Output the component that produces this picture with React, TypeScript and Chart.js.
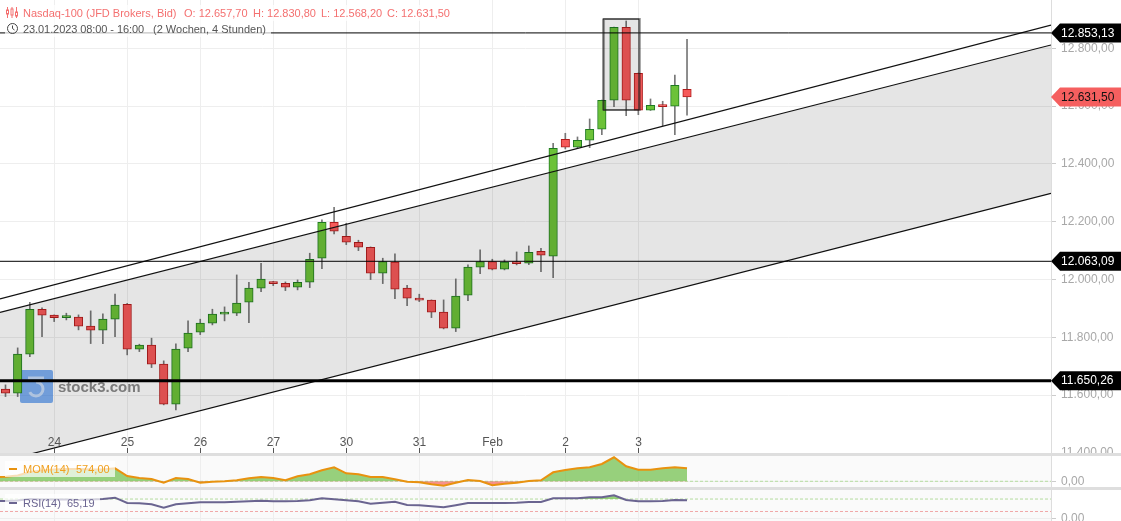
import React, { useEffect, useRef } from 'react';
import { Chart, registerables } from 'chart.js';

Chart.register(...registerables);

const FONT = '"Liberation Sans", Arial, sans-serif';

// 4-hour candles, 23.01.2023 - 03.02.2023
const opens = [11620.8, 11607, 11741.8, 11897.4, 11876.7, 11868.4, 11869.8, 11838.7, 11824.8, 11862.9, 11914.7, 11759.1, 11773, 11707.3, 11568.9, 11762.6, 11817.9, 11849, 11880.2, 11883.6, 11921.6, 11970.1, 11990.8, 11987.3, 11973.5, 11990.8, 12073.8, 12198.3, 12149.9, 12129.1, 12111.8, 12022, 12060, 11970.1, 11935.5, 11928.6, 11887.1, 11831.7, 11945.8, 12042.7, 12062, 12035.8, 12060, 12056.5, 12098, 12080.7, 12485.3, 12457.6, 12481.8, 12519.9, 12620.2, 12872.6, 12713.5, 12585.6, 12602.9, 12599.4, 12657.7];
const highs = [11635.7, 11763.6, 11921.6, 11901.9, 11877.7, 11883.6, 11877.7, 11891.6, 11881.2, 11949.3, 11917.5, 11776.4, 11797.2, 11718.7, 11777.4, 11857, 11862.9, 11897.4, 11905.4, 12016, 11990.8, 12056.5, 11993.6, 11991.8, 11998.8, 12091.1, 12206.2, 12250.2, 12194.8, 12136, 12112.9, 12073.8, 12088.7, 11980.4, 11949.3, 11929.6, 11929.6, 12002.2, 12050.6, 12102.5, 12070.3, 12068, 12095.6, 12116.3, 12108.4, 12471.5, 12506, 12493.3, 12555.5, 12621.2, 12873.6, 12894.4, 12714.6, 12624.7, 12616.7, 12707.6, 12830.8];
const lows = [11595.2, 11595.2, 11733.5, 11802.7, 11854.6, 11860.4, 11825.9, 11778.5, 11778.5, 11802.7, 11739.4, 11750.8, 11695.5, 11566.5, 11549.2, 11750.8, 11809.6, 11843.1, 11857, 11875.3, 11851.1, 11958.3, 11979, 11961.8, 11964.2, 11972.1, 12037.8, 12157.8, 12120.8, 12100.1, 11999.8, 11986, 11934.1, 11909.9, 11923.7, 11868.4, 11829.3, 11820, 11927.2, 12020.6, 12033.3, 12033.3, 12050.6, 12051.7, 12027.5, 12006.7, 12451.8, 12455.2, 12456.3, 12501.2, 12598, 12566.9, 12570.4, 12584.9, 12532.3, 12501.2, 12568.2];
const closes = [11607, 11741.8, 11897.4, 11876.7, 11868.4, 11870.8, 11838.7, 11824.8, 11862.9, 11911.3, 11759.1, 11773, 11707.3, 11568.9, 11759.1, 11814.4, 11849, 11880.2, 11883.6, 11918.2, 11970.1, 12001.2, 11986, 11973.5, 11990.8, 12070.3, 12198.3, 12167.2, 12129.1, 12111.8, 12022, 12062, 11966.6, 11935.5, 11928.6, 11887.1, 11831.7, 11942.4, 12042.7, 12062, 12035.8, 12060, 12055.1, 12094.5, 12084.2, 12454.2, 12457.6, 12481.8, 12519.9, 12620.2, 12872.6, 12620.2, 12585.6, 12602.9, 12598, 12672, 12631.5];

const momValues = [203, 256, 411, 477, 521, 543, 543, 521, 521, 574, 234, 146, 102, -62, 146, 102, -62, -18, 5, 44, 132, 190, 146, 44, 221, 309, 486, 618, 353, 309, 190, 190, 88, -18, -44, -132, -194, -62, 57, 13, -177, -106, -62, 13, 44, 397, 499, 574, 618, 764, 1060, 662, 512, 512, 574, 618, 574];
const rsiValues = [62.9, 64.7, 70.2, 68.4, 68.4, 68.4, 66.5, 68.4, 70.2, 74.9, 55.7, 54.6, 51, 38.7, 51, 54.6, 58.2, 58.2, 58.2, 60.4, 61.8, 64, 61.8, 61.8, 62.9, 65.5, 72.7, 69.1, 65.5, 61.8, 53.2, 56.8, 60.4, 48.5, 47.4, 43.8, 40.1, 47.4, 55.7, 55.7, 55.7, 55.7, 56.8, 59.3, 59.3, 72.7, 72.7, 72.7, 76.3, 76.3, 83.5, 66.5, 61.8, 61.8, 62.9, 66.5, 65.19];
// indicator values at the left edge, the candle before it is cut off
const momLead = 195;
const rsiLead = 62.5;

// x axis in candle numbers
const xRange = [-0.452, 85.908];
const xTickPositions = [4, 10, 16, 22, 28, 34, 40, 46, 52];
const xTickLabels = ['24', '25', '26', '27', '30', '31', 'Feb', '2', '3'];

const priceRange = [11400, 12967];
const priceTicks = [11400, 11600, 11800, 12000, 12200, 12400, 12600, 12800];

const channelUpper = [11933, 12880.5];
const channelMiddle = [11886.4, 12811.4];
const channelLower = [11369.4, 12297.9];

const levelValues = [12853.13, 12063.09, 11650.26];
const levelWidths = [1, 1, 3];
const lastPrice = 12631.5;

const boxX = [49.1, 52.05];
const boxY = [12586.6, 12901.3];

const momRange = [-252, 1117];
const momTicks = [0];
const rsiRange = [-9.4, 102.7];
const rsiTicks = [0];
const rsiLevels = [70, 25];

const xAt = (values: number[], lead: number) => [{ x: xRange[0], y: lead }, ...values.map((y, i) => ({ x: i, y }))];
const span = (values: number[]) => values.map((y, i) => ({ x: xRange[i], y }));
const flat = (y: number) => xRange.map((x) => ({ x, y }));
const deNumber = (v: number) => v.toFixed(2).replace('.', ',').replace(/\B(?=(\d{3})+,)/g, '.');

const UP = 'rgb(108,194,56)';
const DOWN = 'rgb(246,90,90)';
const UP_EDGE = '#1f7a22';
const DOWN_EDGE = '#b01c1c';

const xScale = (): any => ({
  type: 'linear',
  offset: false,
  min: xRange[0],
  max: xRange[1],
  afterBuildTicks: (s: any) => {
    s.ticks = xTickPositions.map((value) => ({ value }));
  },
  afterFit: (s: any) => {
    s.height = 0;
  },
  ticks: { display: false, autoSkip: false },
  border: { display: false },
  grid: { color: '#eeeeee', lineWidth: 1, drawTicks: false, offset: false },
});

const yScale = (range: number[], ticks: number[]): any => ({
  type: 'linear',
  position: 'right',
  min: range[0],
  max: range[1],
  afterBuildTicks: (s: any) => {
    s.ticks = ticks.map((value) => ({ value }));
  },
  afterFit: (s: any) => {
    s.width = 70;
    // labels may be cut by the panel edge, as in the original
    s.paddingTop = 0;
    s.paddingBottom = 0;
  },
  ticks: {
    color: '#a8a8a8',
    font: { family: FONT, size: 12 },
    padding: 5,
    callback: (v: number) => deNumber(v),
  },
  border: { color: '#dddddd' },
  grid: { color: '#eeeeee', tickColor: '#cccccc', tickLength: 5 },
});

const mainDecor = {
  id: 'mainDecor',
  beforeDatasetsDraw(chart: any) {
    const { ctx } = chart;
    ctx.save();
    // stock3 logo, sits under the candles and the channel
    ctx.fillStyle = 'rgba(70,140,235,0.7)';
    ctx.beginPath();
    ctx.roundRect(20, 370, 33, 33, 2);
    ctx.fill();
    ctx.strokeStyle = 'rgba(255,255,255,0.55)';
    ctx.lineWidth = 3;
    ctx.beginPath();
    ctx.moveTo(28, 378);
    ctx.lineTo(44, 378);
    ctx.stroke();
    ctx.beginPath();
    ctx.arc(36, 389, 7, -Math.PI / 2, Math.PI * 0.85);
    ctx.stroke();
    ctx.fillStyle = '#8a8a8a';
    ctx.font = `bold 15px ${FONT}`;
    ctx.textBaseline = 'middle';
    ctx.fillText('stock3.com', 58, 388);
    ctx.restore();
  },
  afterDatasetsDraw(chart: any) {
    const { ctx, scales } = chart;
    const { x, y } = scales;
    const left = x.getPixelForValue(boxX[0]);
    const right = x.getPixelForValue(boxX[1]);
    const top = y.getPixelForValue(boxY[1]);
    const bottom = y.getPixelForValue(boxY[0]);
    ctx.save();
    ctx.fillStyle = 'rgba(0,0,0,0.1)';
    ctx.fillRect(left, top, right - left, bottom - top);
    ctx.strokeStyle = 'rgba(0,0,0,0.35)';
    ctx.lineWidth = 2;
    ctx.strokeRect(left + 1, top, right - left, bottom - top);
    ctx.strokeStyle = '#222222';
    ctx.lineWidth = 1;
    ctx.strokeRect(left, top, right - left, bottom - top);
    ctx.restore();
  },
  afterDraw(chart: any) {
    const { ctx, scales } = chart;
    const { x, y } = scales;
    ctx.save();
    // x labels sit inside the plot
    ctx.font = `12px ${FONT}`;
    ctx.textAlign = 'center';
    ctx.textBaseline = 'middle';
    xTickPositions.forEach((pos, i) => {
      const px = Math.round(x.getPixelForValue(pos)) + 0.5;
      ctx.fillStyle = '#555555';
      ctx.fillText(xTickLabels[i], px, 442.5);
      ctx.strokeStyle = '#555555';
      ctx.lineWidth = 1;
      ctx.beginPath();
      ctx.moveTo(px, 448);
      ctx.lineTo(px, 453);
      ctx.stroke();
    });
    // price tags on the right
    const edge = x.right;
    const tag = (value: number, fill: string, text: string) => {
      const py = y.getPixelForValue(value);
      ctx.fillStyle = fill;
      ctx.beginPath();
      ctx.moveTo(edge, py);
      ctx.lineTo(edge + 9, py - 9.5);
      ctx.lineTo(1121, py - 9.5);
      ctx.lineTo(1121, py + 9.5);
      ctx.lineTo(edge + 9, py + 9.5);
      ctx.closePath();
      ctx.fill();
      ctx.fillStyle = text;
      ctx.textAlign = 'left';
      ctx.fillText(deNumber(value), 1061, py + 0.5);
    };
    levelValues.forEach((v) => tag(v, '#000000', '#ffffff'));
    tag(lastPrice, '#f55f5f', '#111111');
    ctx.restore();
  },
};

const baseOptions = (scales: any): any => ({
  responsive: false,
  animation: false,
  layout: { padding: 0, autoPadding: false },
  plugins: { legend: { display: false }, tooltip: { enabled: false } },
  elements: { point: { radius: 0 }, line: { tension: 0 } },
  scales,
});

const App: React.FC = () => {
  const mainRef = useRef<HTMLCanvasElement>(null);
  const momRef = useRef<HTMLCanvasElement>(null);
  const rsiRef = useRef<HTMLCanvasElement>(null);

  useEffect(() => {
    const charts: Chart[] = [];

    const channelLine = (data: number[], order: number, extra: any = {}) => ({
      type: 'line',
      data: span(data),
      borderColor: '#111111',
      borderWidth: 1.2,
      order,
      fill: false,
      ...extra,
    });

    charts.push(
      new Chart(mainRef.current!, {
        type: 'bar',
        data: {
          datasets: [
            {
              data: highs.map((h, i) => ({ x: i, y: [lows[i], h] })),
              backgroundColor: '#777777',
              borderWidth: 0,
              barThickness: 1,
              grouped: false,
              order: 10,
            },
            {
              data: opens.map((o, i) => ({ x: i, y: [o, closes[i]] })),
              backgroundColor: opens.map((o, i) => (closes[i] >= o ? UP : DOWN)),
              borderColor: opens.map((o, i) => (closes[i] >= o ? UP_EDGE : DOWN_EDGE)),
              borderWidth: 1,
              borderSkipped: false,
              barThickness: 8.5,
              minBarLength: 2,
              grouped: false,
              order: 9,
            },
            channelLine(channelLower, 8),
            channelLine(channelMiddle, 7, { fill: { target: '-1' }, backgroundColor: 'rgba(0,0,0,0.1)' }),
            channelLine(channelUpper, 6),
            ...levelValues.map((v, i) => ({
              type: 'line',
              data: flat(v),
              borderColor: '#000000',
              borderWidth: levelWidths[i],
              order: 5 - i,
              fill: false,
            })),
          ] as any,
        },
        options: baseOptions({ x: xScale(), y: yScale(priceRange, priceTicks) }),
        plugins: [mainDecor],
      })
    );

    charts.push(
      new Chart(momRef.current!, {
        type: 'line',
        data: {
          datasets: [
            {
              data: xAt(momValues, momLead),
              borderColor: '#e8920f',
              borderWidth: 2,
              fill: { target: { value: 0 }, above: 'rgba(108,190,70,0.7)', below: 'rgba(245,100,90,0.7)' },
              order: 1,
            },
            {
              data: flat(0),
              borderColor: '#b5dc9e',
              borderWidth: 1,
              borderDash: [3, 2],
              order: 2,
            },
          ] as any,
        },
        options: baseOptions({ x: xScale(), y: yScale(momRange, momTicks) }),
      })
    );

    charts.push(
      new Chart(rsiRef.current!, {
        type: 'line',
        data: {
          datasets: [
            {
              data: xAt(rsiValues, rsiLead),
              borderColor: '#6a6490',
              borderWidth: 2,
              fill: { target: { value: rsiLevels[0] }, above: 'rgba(108,190,70,0.7)', below: 'rgba(0,0,0,0)' },
              order: 1,
            },
            {
              data: flat(rsiLevels[0]),
              borderColor: '#b5dc9e',
              borderWidth: 1,
              borderDash: [3, 2],
              order: 2,
            },
            {
              data: flat(rsiLevels[1]),
              borderColor: '#f0a8a8',
              borderWidth: 1,
              borderDash: [3, 2],
              order: 3,
            },
          ] as any,
        },
        options: baseOptions({ x: xScale(), y: yScale(rsiRange, rsiTicks) }),
      })
    );

    return () => {
      charts.forEach((c) => c.destroy());
    };
  }, []);

  const abs = (left: number, top: number, width: number, height: number, extra: React.CSSProperties = {}): React.CSSProperties => ({
    position: 'absolute',
    left,
    top,
    width,
    height,
    ...extra,
  });
  const label = (left: number, top: number, color: string, spacing = 0): React.CSSProperties => ({
    position: 'absolute',
    left,
    top,
    color,
    font: `11px ${FONT}`,
    lineHeight: '13px',
    letterSpacing: spacing,
    whiteSpace: 'pre',
  });
  const RED = '#f47070';
  const GREY = '#555555';
  const ORANGE = '#f0a020';
  const PURPLE = '#6a6490';

  return (
    <div style={{ position: 'fixed', left: 0, top: 0, width: 1121, height: 521, overflow: 'hidden', background: '#fff' }}>
      <div style={abs(0, 456, 1051, 31, { background: '#fafafa' })} />
      <div style={abs(0, 490, 1051, 31, { background: '#fafafa' })} />
      <canvas ref={mainRef} width={1121} height={453} style={abs(0, 0, 1121, 453, { display: 'block' })} />
      <canvas ref={momRef} width={1121} height={31} style={abs(0, 456, 1121, 31, { display: 'block' })} />
      <canvas ref={rsiRef} width={1121} height={31} style={abs(0, 490, 1121, 31, { display: 'block' })} />
      <div style={abs(0, 453, 1121, 3, { background: '#dedede' })} />
      <div style={abs(0, 487, 1121, 3, { background: '#dedede' })} />

      <div style={abs(5, 5, 446, 16, { background: 'rgba(255,255,255,0.7)' })} />
      <div style={abs(5, 21, 266, 16, { background: 'rgba(255,255,255,0.7)' })} />
      <svg style={abs(6, 7, 12, 11)} viewBox="0 0 12 11" fill="none" stroke={RED} strokeWidth="1">
        <path d="M1.5 0V11M6 0V11M10.5 0V11" />
        <rect x="0.5" y="3" width="2" height="4" fill="#fff" />
        <rect x="5" y="2" width="2" height="6" fill="#fff" />
        <rect x="9.5" y="5" width="2" height="4" fill="#fff" />
      </svg>
      <span style={label(23, 7, RED)}>Nasdaq-100 (JFD Brokers, Bid)</span>
      <span style={label(184, 7, RED)}>O: 12.657,70</span>
      <span style={label(253, 7, RED)}>H: 12.830,80</span>
      <span style={label(321, 7, RED)}>L: 12.568,20</span>
      <span style={label(387, 7, RED)}>C: 12.631,50</span>
      <svg style={abs(7, 23, 11, 11)} viewBox="0 0 11 11" fill="none" stroke="#444" strokeWidth="1">
        <circle cx="5.5" cy="5.5" r="5" />
        <path d="M5.5 2.5V5.5L7.5 7" />
      </svg>
      <span style={label(23, 23, GREY, -0.08)}>23.01.2023 08:00 - 16:00</span>
      <span style={label(153, 23, GREY)}>(2 Wochen, 4 Stunden)</span>

      <div style={abs(5, 461, 110, 16, { background: 'rgba(255,255,255,0.7)' })} />
      <div style={abs(9, 468, 8, 2, { background: '#e8920f' })} />
      <span style={label(23, 463, ORANGE)}>MOM(14)</span>
      <span style={label(76, 463, ORANGE)}>574,00</span>

      <div style={abs(5, 494, 95, 16, { background: 'rgba(255,255,255,0.7)' })} />
      <div style={abs(9, 502, 8, 2, { background: PURPLE })} />
      <span style={label(23, 497, PURPLE)}>RSI(14)</span>
      <span style={label(67, 497, PURPLE)}>65,19</span>
    </div>
  );
};

export default App;
